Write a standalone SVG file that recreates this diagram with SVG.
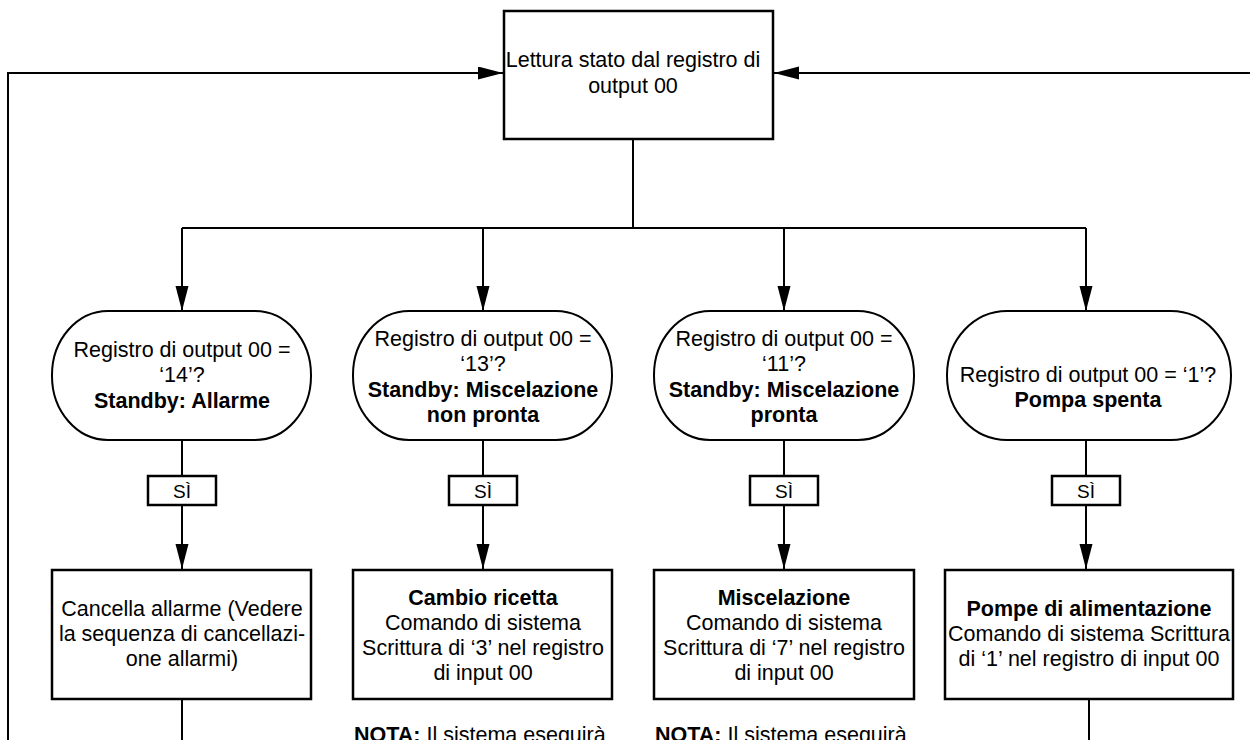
<svg xmlns="http://www.w3.org/2000/svg" width="1250" height="740" viewBox="0 0 1250 740">
<defs>
<style>
.t{font-family:"Liberation Sans",Arial,sans-serif;font-size:21.5px;fill:#000;}
.c{text-anchor:middle;}
.b{font-weight:bold;}
.box{fill:#fff;stroke:#000;stroke-width:2.5;}
.ov{fill:#fff;stroke:#000;stroke-width:2;}
.ln{fill:none;stroke:#000;stroke-width:2;}
.arr{fill:none;stroke:#000;stroke-width:2;marker-end:url(#ah);}
</style>
<marker id="ah" markerUnits="userSpaceOnUse" markerWidth="26" markerHeight="14" refX="25" refY="6.5" orient="auto">
<path d="M0,0 L25,6.5 L0,13 z" fill="#000"/>
</marker>
</defs>
<rect width="1250" height="740" fill="#fff"/>
<g id="connectors">
<polyline class="arr" points="8,740 8,73 503,73"/>
<line class="arr" x1="1252" y1="73" x2="774" y2="73"/>
<line class="ln" x1="633" y1="139" x2="633" y2="228"/>
<line class="ln" x1="182" y1="228" x2="1086" y2="228"/>
<line class="arr" x1="182" y1="228" x2="182" y2="311"/>
<line class="arr" x1="483" y1="228" x2="483" y2="311"/>
<line class="arr" x1="784" y1="228" x2="784" y2="311"/>
<line class="arr" x1="1086" y1="228" x2="1086" y2="311"/>
<line class="ln" x1="182" y1="440" x2="182" y2="476"/>
<line class="ln" x1="483" y1="440" x2="483" y2="476"/>
<line class="ln" x1="784" y1="440" x2="784" y2="476"/>
<line class="ln" x1="1086" y1="440" x2="1086" y2="476"/>
<line class="arr" x1="182" y1="505" x2="182" y2="569"/>
<line class="arr" x1="483" y1="505" x2="483" y2="569"/>
<line class="arr" x1="784" y1="505" x2="784" y2="569"/>
<line class="arr" x1="1086" y1="505" x2="1086" y2="569"/>
<line class="ln" x1="182" y1="699" x2="182" y2="742"/>
<line class="ln" x1="1089" y1="699" x2="1089" y2="742"/>
</g>
<g id="start">
<rect class="box" x="504" y="11" width="269" height="128"/>
<text class="t c" x="633" y="67">Lettura stato dal registro di</text>
<text class="t c" x="633" y="93">output 00</text>
</g>
<g id="dec1">
<rect class="ov" x="52" y="311" width="259" height="129" rx="56" ry="64"/>
<text class="t c" x="182" y="357">Registro di output 00 =</text>
<text class="t c" x="182" y="382">‘14’?</text>
<text class="t c b" x="182" y="408">Standby: Allarme</text>
</g>
<g id="dec2">
<rect class="ov" x="353" y="311" width="259" height="129" rx="56" ry="64"/>
<text class="t c" x="483" y="346">Registro di output 00 =</text>
<text class="t c" x="483" y="371">‘13’?</text>
<text class="t c b" x="483" y="397">Standby: Miscelazione</text>
<text class="t c b" x="483" y="422">non pronta</text>
</g>
<g id="dec3">
<rect class="ov" x="654" y="311" width="260" height="129" rx="56" ry="64"/>
<text class="t c" x="784" y="346">Registro di output 00 =</text>
<text class="t c" x="784" y="371">‘11’?</text>
<text class="t c b" x="784" y="397">Standby: Miscelazione</text>
<text class="t c b" x="784" y="422">pronta</text>
</g>
<g id="dec4">
<rect class="ov" x="947" y="311" width="284" height="129" rx="60" ry="64"/>
<text class="t c" x="1088" y="382">Registro di output 00 = ‘1’?</text>
<text class="t c b" x="1088" y="407">Pompa spenta</text>
</g>
<g id="si1"><rect class="box" x="148" y="476" width="68" height="29"/><text class="t c" x="182" y="498" style="font-size:19px">SÌ</text></g>
<g id="si2"><rect class="box" x="449" y="476" width="68" height="29"/><text class="t c" x="483" y="498" style="font-size:19px">SÌ</text></g>
<g id="si3"><rect class="box" x="750" y="476" width="68" height="29"/><text class="t c" x="784" y="498" style="font-size:19px">SÌ</text></g>
<g id="si4"><rect class="box" x="1052" y="476" width="68" height="29"/><text class="t c" x="1086" y="498" style="font-size:19px">SÌ</text></g>
<g id="act1">
<rect class="box" x="52" y="570" width="259" height="129"/>
<text class="t c" x="182" y="616">Cancella allarme (Vedere</text>
<text class="t c" x="182" y="641">la sequenza di cancellazi-</text>
<text class="t c" x="182" y="666">one allarmi)</text>
</g>
<g id="act2">
<rect class="box" x="353" y="570" width="259" height="129"/>
<text class="t c b" x="483" y="605">Cambio ricetta</text>
<text class="t c" x="483" y="630">Comando di sistema</text>
<text class="t c" x="483" y="655">Scrittura di ‘3’ nel registro</text>
<text class="t c" x="483" y="680">di input 00</text>
</g>
<g id="act3">
<rect class="box" x="654" y="570" width="260" height="129"/>
<text class="t c b" x="784" y="605">Miscelazione</text>
<text class="t c" x="784" y="630">Comando di sistema</text>
<text class="t c" x="784" y="655">Scrittura di ‘7’ nel registro</text>
<text class="t c" x="784" y="680">di input 00</text>
</g>
<g id="act4">
<rect class="box" x="945" y="570" width="288" height="129"/>
<text class="t c b" x="1089" y="616">Pompe di alimentazione</text>
<text class="t c" x="1089" y="641">Comando di sistema Scrittura</text>
<text class="t c" x="1089" y="666">di ‘1’ nel registro di input 00</text>
</g>
<g id="nota2"><text class="t" x="354" y="742"><tspan class="b">NOTA:</tspan> Il sistema eseguirà</text></g>
<g id="nota3"><text class="t" x="655" y="742"><tspan class="b">NOTA:</tspan> Il sistema eseguirà</text></g>
</svg>
